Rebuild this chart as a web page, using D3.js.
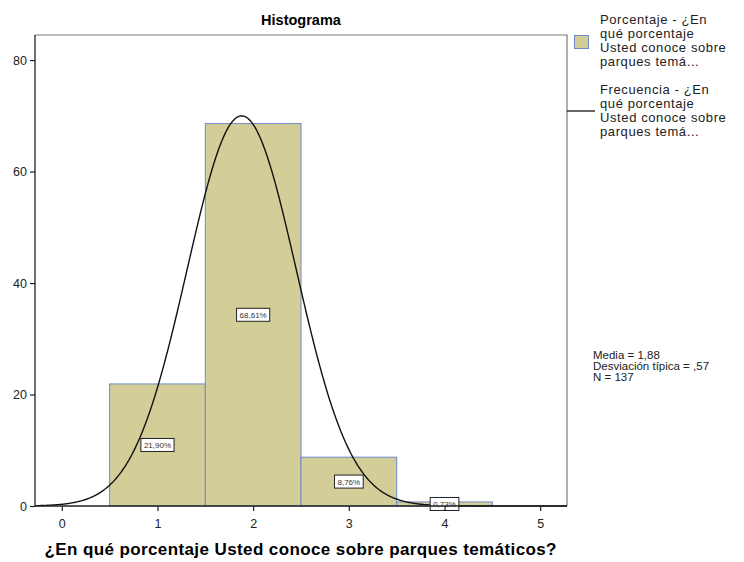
<!DOCTYPE html>
<html>
<head>
<meta charset="utf-8">
<script src="https://cdn.jsdelivr.net/npm/d3@7"></script>
<style>
  body { margin: 0; background: #fff; }
  svg { display: block; font-family: "Liberation Sans", Arial, sans-serif; }
</style>
</head>
<body>
<svg id="chart" width="744" height="562"></svg>
<script>
// ---- data ----
const binCenters = [1, 2, 3, 4];
const percentages = [21.90, 68.61, 8.76, 0.73];
const barLabels = ["21,90%", "68,61%", "8,76%", "0,73%"];
const xTicks = [0, 1, 2, 3, 4, 5];
const yTicks = [0, 20, 40, 60, 80];
const stats = { mean: 1.88, sd: 0.57, n: 137 };
const statsLines = ["Media = 1,88", "Desviación típica = ,57", "N = 137"];
const legendBarLines = ["Porcentaje - ¿En", "qué porcentaje", "Usted conoce sobre", "parques temá..."];
const legendLineLines = ["Frecuencia - ¿En", "qué porcentaje", "Usted conoce sobre", "parques temá..."];
const title = "Histograma";
const xTitle = "¿En qué porcentaje Usted conoce sobre parques temáticos?";

// ---- layout ----
const L = 35, R = 567, T = 35, B = 506;
const svg = d3.select("#chart");
const x = d3.scaleLinear().domain([-0.28, 5.28]).range([L, R]);
const y = d3.scaleLinear().domain([0, 84.5]).range([B, T]);

// frame (top/right gray)
svg.append("path")
  .attr("d", `M${L},${T}H${R}V${B}`)
  .attr("fill", "none").attr("stroke", "#7a7a7a").attr("stroke-width", 1.2);

// bars
svg.append("g").selectAll("rect").data(percentages).join("rect")
  .attr("x", (d, i) => x(binCenters[i] - 0.5))
  .attr("width", (d, i) => x(binCenters[i] + 0.5) - x(binCenters[i] - 0.5))
  .attr("y", d => y(d))
  .attr("height", d => B - y(d))
  .attr("fill", "#d3ce98")
  .attr("stroke", "#7088c8")
  .attr("stroke-width", 1);

// normal curve (percent scale, bin width 1)
const k = 100 / (stats.sd * Math.sqrt(2 * Math.PI));
const xs = d3.range(-0.28, 5.281, 0.01);
const line = d3.line()
  .x(v => x(v))
  .y(v => y(k * Math.exp(-0.5 * Math.pow((v - stats.mean) / stats.sd, 2))));
svg.append("path").datum(xs)
  .attr("d", line)
  .attr("fill", "none").attr("stroke", "#111").attr("stroke-width", 1.4);

// bar labels
const lg = svg.append("g");
percentages.forEach((p, i) => {
  const cx = x(binCenters[i]), cy = y(p / 2);
  const g = lg.append("g");
  const rect = g.append("rect");
  const t = g.append("text")
    .attr("x", cx).attr("y", cy + 3)
    .attr("text-anchor", "middle")
    .attr("font-size", 8).attr("fill", "#333")
    .text(barLabels[i]);
  const w = t.node().getComputedTextLength() + 6;
  rect.attr("x", cx - w / 2).attr("y", cy - 6.5).attr("width", w).attr("height", 13)
    .attr("fill", "#fff").attr("stroke", "#222").attr("stroke-width", 1);
});

// axes
const yAxis = svg.append("g").attr("transform", `translate(${L},0)`)
  .call(d3.axisLeft(y).tickValues(yTicks).tickSize(5).tickFormat(d3.format("d")));
const xAxis = svg.append("g").attr("transform", `translate(0,${B})`)
  .call(d3.axisBottom(x).tickValues(xTicks).tickSize(5).tickFormat(d3.format("d")));
[yAxis, xAxis].forEach(a => {
  a.select(".domain").attr("stroke", "#222").attr("stroke-width", 1.3);
  a.selectAll(".tick line").attr("stroke", "#222").attr("stroke-width", 1.2);
  a.selectAll(".tick text").attr("font-size", 12.5).attr("fill", "#222")
    .attr("font-family", "'Liberation Sans', Arial, sans-serif");
});
yAxis.select(".domain").attr("d", `M0,${T}V${B}`);
xAxis.select(".domain").attr("d", `M${L},0H${R}`);
xAxis.selectAll(".tick text").attr("dy", "1.15em");

// titles
svg.append("text").attr("x", (L + R) / 2).attr("y", 25)
  .attr("text-anchor", "middle").attr("font-size", 14.5).attr("font-weight", "bold")
  .text(title);
svg.append("text").attr("x", (L + R) / 2 - 0.5).attr("y", 555)
  .attr("text-anchor", "middle").attr("font-size", 17).attr("font-weight", "bold")
  .attr("textLength", 512).attr("lengthAdjust", "spacing")
  .text(xTitle);

// legend
svg.append("rect").attr("x", 574.5).attr("y", 35.5).attr("width", 14).attr("height", 13)
  .attr("fill", "#d3ce98").attr("stroke", "#7088c8").attr("stroke-width", 1);
legendBarLines.forEach((s, i) => {
  svg.append("text").attr("x", 600).attr("y", 24 + i * 14)
    .attr("font-size", 13).attr("letter-spacing", 0.6).attr("fill", "#222").text(s);
});
svg.append("line").attr("x1", R).attr("x2", 595).attr("y1", 111).attr("y2", 111)
  .attr("stroke", "#111").attr("stroke-width", 1.3);
legendLineLines.forEach((s, i) => {
  svg.append("text").attr("x", 600).attr("y", 94 + i * 14)
    .attr("font-size", 13).attr("letter-spacing", 0.6).attr("fill", "#222").text(s);
});

// stats
statsLines.forEach((s, i) => {
  svg.append("text").attr("x", 593).attr("y", 359 + i * 11)
    .attr("font-size", 11.5).attr("fill", "#222").text(s);
});
</script>
</body>
</html>
